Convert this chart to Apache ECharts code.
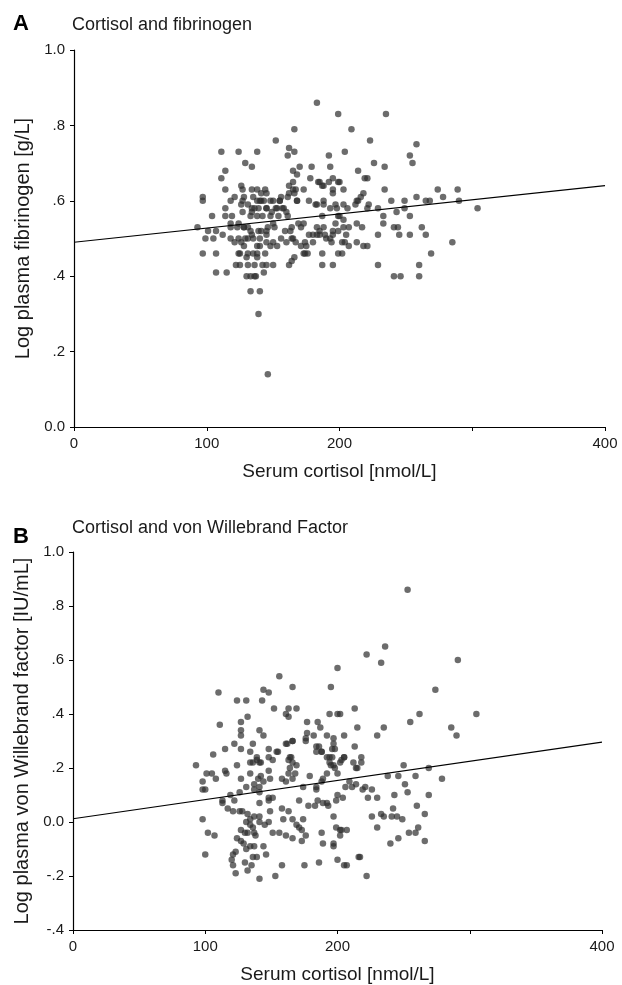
<!DOCTYPE html>
<html>
<head>
<meta charset="utf-8">
<style>
  html, body { margin: 0; padding: 0; background: #fff; }
  #chart { width: 622px; height: 985px; }
</style>
<script src="https://cdn.jsdelivr.net/npm/echarts@6/dist/echarts.min.js"></script>
</head>
<body>
<div id="chart"></div>
<script>
// panel A: serum cortisol [nmol/L] vs log plasma fibrinogen [g/L]
const fibrinogenPoints = [
  [183,.86],[199,.83],[235,.83],[166,.79],[209,.79],[152,.76],[223,.76],[162,.74],[166,.73],[258,.75],
  [111,.73],[124,.73],[138,.73],[204,.73],[161,.72],[192,.72],[253,.72],[129,.70],[134,.69],[226,.70],
  [255,.70],[114,.68],[111,.66],[165,.68],[168,.67],[170,.69],[179,.69],[193,.69],[234,.69],[214,.68],
  [219,.66],[221,.66],[178,.66],[184,.65],[192,.65],[200,.65],[126,.64],[162,.64],[187,.64],[114,.63],
  [127,.63],[134,.63],[138,.63],[144,.63],[165,.63],[195,.63],[234,.63],[274,.63],[289,.63],[173,.63],
  [167,.63],[141,.62],[145,.62],
  [97,.61],[97,.60],[121,.61],[128,.61],[135,.61],[156,.61],[161,.61],[168,.60],[177,.60],[188,.60],
  [118,.60],[127,.60],[140,.60],[143,.60],[150,.60],[155,.60],[182,.59],[197,.59],[198,.58],[258,.61],
  [265,.60],[278,.61],[249,.60],[239,.60],[216,.61],[222,.59],[213,.60],[268,.60],[290,.60],[304,.58],
  [229,.58],[221,.58],[206,.58],[249,.58],[243,.57],[233,.56],[253,.56],[233,.54],[114,.58],[127,.57],
  [134,.58],[139,.58],[145,.58],[152,.58],[157,.58],
  [104,.56],[114,.56],[119,.56],[133,.56],[138,.56],[142,.56],[148,.56],[154,.56],[161,.56],[187,.56],[199,.56],
  [93,.53],[101,.52],[107,.52],[112,.51],[118,.53],[123,.53],[128,.53],[133,.52],[139,.52],[145,.52],
  [151,.53],[163,.52],[171,.53],[217,.53],[241,.53],[244,.53],[262,.53],
  [99,.50],[105,.50],[118,.50],[124,.50],[129,.50],[135,.50],[145,.49],[150,.49],[156,.50],[165,.50],
  [171,.48],[174,.49],[180,.51],[185,.51],[190,.50],[195,.51],[245,.51],[253,.51],[265,.51],[229,.51],
  [285,.49],[204,.49],[218,.48],[207,.48],[194,.49],[180,.49],
  [97,.46],[107,.46],[124,.46],[131,.46],[138,.46],[144,.46],[174,.46],[187,.46],[199,.46],[269,.46],[202,.46],
  [122,.43],[125,.43],[131,.43],[136,.43],[142,.43],[145,.43],[150,.43],[162,.43],[164,.44],[187,.43],
  [195,.43],[229,.43],[260,.43],
  [107,.41],[115,.41],[143,.41],[130,.40],[133,.40],[137,.40],[241,.40],[246,.40],[260,.40],
  [133,.36],[140,.36],[139,.30],[146,.14],
  [118,.54],[124,.54],[128,.53],[131,.53],[134,.51],[131,.50],[128,.48],[125,.46],[130,.45],[135,.46],
  [138,.48],[140,.50],[145,.51],[141,.52],[146,.53],[150,.54],[149,.57],[145,.58],[153,.58],[158,.58],
  [155,.60],[148,.60],[141,.60],[138,.60],[134,.57],[136,.58],[131,.59],[126,.59],[121,.49],[126,.49],
  [138,.45],[140,.48],[148,.48],[153,.48],[136,.40],[160,.57],[162,.62],[165,.65],[166,.62],[168,.60],
  [185,.65],[188,.64],[199,.65],[195,.66],[203,.63],[183,.59],[188,.59],[195,.62],[203,.59],[218,.62],
  [212,.59],[214,.60],[169,.54],[173,.54],[164,.53],[159,.52],[164,.50],[160,.49],[167,.49],[177,.51],
  [183,.53],[188,.53],[185,.52],[183,.51],[189,.51],[195,.52],[199,.52],[193,.50],[202,.49],[205,.51],
  [203,.53],[207,.53],[213,.54],[221,.48],[213,.49],[193,.58],[200,.56],[203,.55],[197,.54],[175,.48],
  [173,.46],[166,.45],[176,.46]
];
const fibrinogenLine = [[0, 0.49], [400, 0.64]];

// panel B: serum cortisol [nmol/L] vs log plasma von Willebrand factor [IU/mL]
const vwfPoints = [
  [110,.48],[124,.45],[131,.45],[144,.49],[148,.48],[143,.45],[156,.54],[166,.50],[195,.50],[200,.57],
  [152,.42],[161,.40],[163,.42],[169,.42],[163,.39],[194,.40],[200,.40],[132,.39],[127,.37],[111,.36],
  [127,.34],[127,.32],[141,.34],[144,.32],[177,.37],[185,.37],[187,.35],[177,.33],[182,.32],[176,.31],
  [192,.32],[197,.31],[122,.29],[136,.29],[115,.27],[127,.27],[134,.26],[148,.27],[154,.26],[162,.29],
  [166,.30],[186,.28],[196,.27],[188,.26],[106,.25],[139,.24],[164,.24],[194,.24],
  [253,.86],[236,.65],[222,.62],[233,.59],[291,.60],[274,.49],[202,.40],[213,.42],[305,.40],[262,.40],
  [255,.37],[215,.35],[235,.35],[230,.32],[286,.35],[290,.32],[205,.32],[213,.28],[205,.24],[218,.24],
  [93,.21],[98,.15],[100,.12],[98,.12],[101,.18],[105,.18],[108,.16],[115,.19],[116,.18],[124,.21],
  [127,.16],[134,.22],[136,.22],[139,.23],[141,.22],[134,.18],[137,.14],[140,.16],[142,.17],[144,.15],
  [149,.16],[141,.13],[137,.12],[141,.11],[131,.13],[126,.11],[122,.08],[119,.10],[113,.08],[113,.07],
  [126,.04],[121,.04],[128,.04],[117,.05],[132,.03],[131,.00],[134,.01],[137,.02],[136,-.02],[134,-.01],
  [141,.02],[141,.00],[145,-.01],[148,.00],[149,.04],[141,.07],[148,.09],[151,.09],[148,.08],[151,-.04],
  [127,-.03],[130,-.04],[132,-.04],[138,-.05],[137,-.04],[124,-.06],[127,-.07],[129,-.08],[131,-.10],[134,-.09],
  [137,-.09],[136,-.13],[139,-.13],[144,-.09],[146,-.12],[123,-.11],[121,-.12],[120,-.14],[121,-.16],[123,-.19],
  [130,-.15],[132,-.18],[135,-.16],[141,-.21],[153,-.20],[100,-.12],[102,-.04],[107,-.05],[98,.01],[148,.24],
  [155,.26],[151,.23],[148,.19],[142,.22],
  [158,.16],[161,.15],[166,.16],[163,.18],[168,.18],[164,.20],[166,.22],[169,.21],[163,.23],[165,.24],
  [161,.29],[166,.30],[176,.30],[158,.05],[159,.01],[156,-.04],[163,.04],[166,.01],[169,-.01],[161,-.05],
  [166,-.06],[171,-.02],[174,.01],[173,-.03],[176,-.05],[173,-.07],[171,.08],[174,.13],[179,.17],[178,.06],
  [175,-.16],[158,-.16],[184,.12],[184,.13],[188,.15],[189,.16],[185,.08],[189,.07],[192,.07],[193,.06],
  [183,.06],[184,.28],[188,.26],[184,.26],[192,.24],[194,.22],[192,.18],[197,.21],[198,.20],[200,.18],
  [195,.21],[203,.23],[205,.24],[202,.22],[200,.10],[204,.09],[199,.08],[197,.02],[188,-.04],[189,-.08],
  [197,-.08],[199,-.02],[202,-.03],[207,-.03],[200,-.14],[186,-.15],[205,-.16],[207,-.16],[216,-.13],[211,.13],
  [214,.14],[209,.15],[212,.22],[214,.20],
  [197,.29],[198,.27],[196,.24],[218,.22],[215,.20],[250,.21],[269,.20],[238,.17],[246,.17],[259,.17],
  [279,.16],[206,.13],[221,.13],[219,.12],[226,.12],[251,.14],[253,.11],[269,.10],[243,.10],[223,.09],
  [230,.09],[260,.06],[266,.03],[242,.05],[226,.02],[233,.03],[235,.02],[241,.02],[245,.02],[249,.01],
  [230,-.02],[203,-.03],[202,-.05],[261,-.02],[259,-.04],[254,-.04],[246,-.06],[240,-.08],[266,-.07],[197,-.09],
  [217,-.13],[222,-.20]
];
const vwfLine = [[0, 0.012], [400, 0.296]];

const xTicks = [0, 100, 200, 400];

const FONT = '"Liberation Sans", Arial, Helvetica, sans-serif';
const TXT = '#1a1a1a';

function yFmt(v) {
  if (Math.abs(v) < 1e-9) return '0.0';
  if (Math.abs(v - 1) < 1e-9) return '1.0';
  return v.toFixed(1).replace('0.', '.');
}

function xAxisOf(gi) {
  return {
    gridIndex: gi, type: 'value', min: 0, max: 400, interval: 100,
    name: 'Serum cortisol [nmol/L]', nameLocation: 'middle', nameGap: 35,
    nameTextStyle: { fontFamily: FONT, fontSize: 19, color: TXT },
    axisLine: { onZero: false, lineStyle: { color: '#000', width: 1.2 } },
    axisTick: { length: 4, lineStyle: { color: '#000' } },
    axisLabel: {
      margin: 9, fontFamily: FONT, fontSize: 15, color: TXT,
      formatter: v => xTicks.indexOf(v) >= 0 ? String(v) : ''
    },
    splitLine: { show: false }
  };
}

function yAxisOf(gi, min, name, gap) {
  return {
    gridIndex: gi, type: 'value', min: min, max: 1, interval: 0.2,
    name: name, nameLocation: 'middle', nameGap: gap,
    nameTextStyle: { fontFamily: FONT, fontSize: 20, color: TXT },
    axisLine: { onZero: false, lineStyle: { color: '#000', width: 1.2 } },
    axisTick: { length: 4, lineStyle: { color: '#000' } },
    axisLabel: { margin: 9, fontFamily: FONT, fontSize: 15, color: TXT, formatter: yFmt },
    splitLine: { show: false }
  };
}

const dot = { color: 'rgba(45,45,45,0.88)' };

let chart = echarts.init(document.getElementById('chart'), null, { renderer: 'canvas' });
let option = {
  backgroundColor: '#fff',
  animation: false,
  title: [
    { text: 'A', left: 8, top: 8, textStyle: { fontFamily: FONT, fontSize: 22, fontWeight: 'bold', color: '#000' } },
    { text: 'Cortisol and fibrinogen', left: 67, top: 11, textStyle: { fontFamily: FONT, fontSize: 18, fontWeight: 'normal', color: TXT } },
    { text: 'B', left: 8, top: 521, textStyle: { fontFamily: FONT, fontSize: 22, fontWeight: 'bold', color: '#000' } },
    { text: 'Cortisol and von Willebrand Factor', left: 67, top: 514, textStyle: { fontFamily: FONT, fontSize: 18, fontWeight: 'normal', color: TXT } }
  ],
  grid: [
    { left: 74, right: 17, top: 50, bottom: 558 },
    { left: 73, right: 20, top: 552, bottom: 54 }
  ],
  xAxis: [xAxisOf(0), xAxisOf(1)],
  yAxis: [
    yAxisOf(0, 0, 'Log plasma fibrinogen [g/L]', 40),
    yAxisOf(1, -0.4, 'Log plasma von Willebrand factor [IU/mL]', 41)
  ],
  series: [
    { type: 'scatter', xAxisIndex: 0, yAxisIndex: 0, data: fibrinogenPoints, symbolSize: 6.5, itemStyle: dot },
    { type: 'line', xAxisIndex: 0, yAxisIndex: 0, data: fibrinogenLine, symbol: 'none',
      lineStyle: { color: '#000', width: 1.2 } },
    { type: 'scatter', xAxisIndex: 1, yAxisIndex: 1, data: vwfPoints, symbolSize: 6.5, itemStyle: dot },
    { type: 'line', xAxisIndex: 1, yAxisIndex: 1, data: vwfLine, symbol: 'none',
      lineStyle: { color: '#000', width: 1.2 } }
  ]
};
chart.setOption(option);
</script>
</body>
</html>
